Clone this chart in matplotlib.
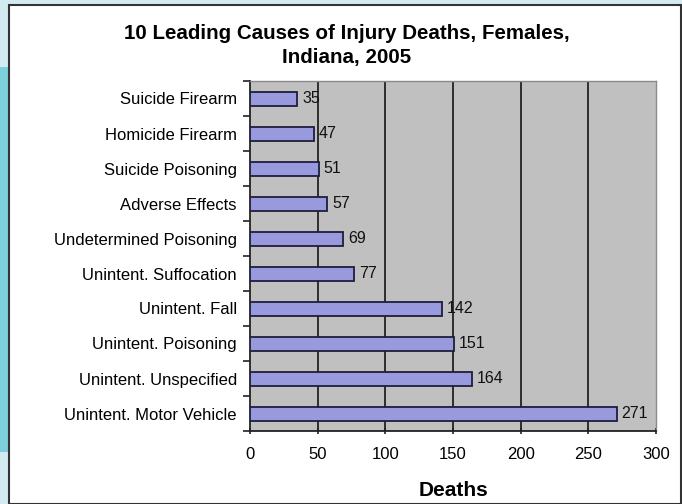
import numpy as np
import matplotlib.pyplot as plt
from matplotlib.patches import Rectangle

plt.rcParams['font.family'] = ['Liberation Sans', 'DejaVu Sans']

causes = ["Suicide Firearm", "Homicide Firearm", "Suicide Poisoning", "Adverse Effects",
          "Undetermined Poisoning", "Unintent. Suffocation", "Unintent. Fall",
          "Unintent. Poisoning", "Unintent. Unspecified", "Unintent. Motor Vehicle"]
deaths = [35, 47, 51, 57, 69, 77, 142, 151, 164, 271]
x_ticks = [0, 50, 100, 150, 200, 250, 300]

fig = plt.figure(figsize=(6.82, 5.04), dpi=100)
fig.patch.set_facecolor('#d3ebf0')

# page decoration: blue side strips and the white chart panel
W, H = 682., 504.
fig.patches.append(Rectangle((0, (H - 452) / H), 9 / W, (452 - 67) / H,
                             transform=fig.transFigure, facecolor='#7ccfdb', edgecolor='none', zorder=0))
fig.patches.append(Rectangle((9 / W, 0), (681 - 9) / W, (H - 10) / H + 0.01,
                             transform=fig.transFigure, facecolor='white', edgecolor='#333333',
                             linewidth=1.5, zorder=1))

ax = fig.add_axes([250 / W, (H - 431) / H, 406 / W, 350 / H])
ax.set_zorder(2)
ax.set_facecolor('#c0c0c0')

y = np.arange(len(causes))
bars = ax.barh(y, deaths, height=0.4, color='#9999dd', edgecolor='#1e1e3c', linewidth=1.3, zorder=3)
for yi, v in zip(y, deaths):
    ax.text(v + 3.5, yi, str(v), va='center', ha='left', fontsize=11.5, color='#111111', zorder=4)

ax.set_xlim(0, 300)
ax.set_ylim(len(causes) - 0.5, -0.5)
ax.set_xticks(x_ticks)
ax.set_yticks(y)
ax.set_yticklabels(causes, fontsize=12)
ax.set_yticks(np.arange(len(causes) + 1) - 0.5, minor=True)
ax.tick_params(axis='y', which='major', length=0, pad=9.5)
ax.tick_params(axis='y', which='minor', length=5, direction='out', width=1.2, color='#222222')
ax.tick_params(axis='x', length=5, direction='inout', width=1.2, labelsize=12, pad=9, color='#222222')

for xv in x_ticks[1:-1]:
    ax.axvline(xv, color='#222222', linewidth=1.3, zorder=2)

for s in ['left', 'bottom']:
    ax.spines[s].set_color('#222222')
    ax.spines[s].set_linewidth(1.3)
for s in ['top', 'right']:
    ax.spines[s].set_color('#8a8a8a')
    ax.spines[s].set_linewidth(1.0)

ax.set_xlabel("Deaths", fontsize=15, fontweight='bold', labelpad=14)
fig.text(347 / W, (H - 45.5) / H, "10 Leading Causes of Injury Deaths, Females,\nIndiana, 2005",
         ha='center', va='center', fontsize=14.8, fontweight='bold', linespacing=1.38, zorder=5)

fig.savefig('out.png', dpi=100, facecolor=fig.get_facecolor())
